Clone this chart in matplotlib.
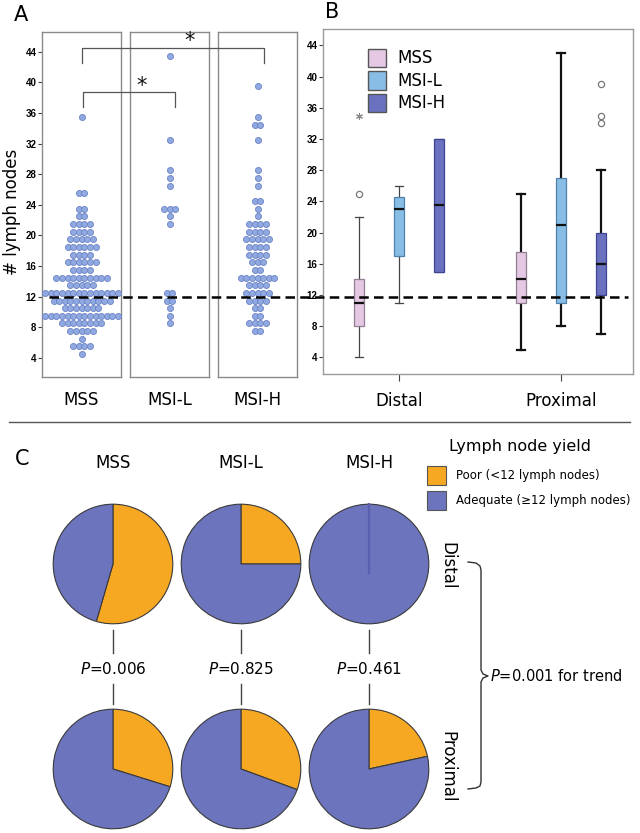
import matplotlib
matplotlib.use('Agg')
import matplotlib.pyplot as plt
import numpy as np
from matplotlib.patches import Rectangle
from matplotlib.lines import Line2D
import matplotlib.transforms as mtransforms

plt.rcParams['font.family'] = ['DejaVu Sans']

# ---------------- data ----------------
groups = ['MSS', 'MSI-L', 'MSI-H']
threshold = 12
yticks = list(range(4, 45, 4))

# Panel A: dot-plot rows (level, number of dots)
mss_levels = [35.5, 25.5, 23.5, 22.5, 21.5, 20.5, 19.5, 18.5, 17.5, 16.5, 15.5,
              14.5, 13.5, 12.5, 11.5, 10.5, 9.5, 8.5, 7.5, 6.5, 5.5, 4.5]
mss_counts = [1, 2, 2, 2, 4, 4, 5, 6, 4, 6, 4, 10, 5, 14, 11, 7, 14, 8, 5, 1, 4, 1]
msil_levels = [43.5, 32.5, 28.5, 27.5, 26.5, 23.5, 22.5, 21.5, 12.5, 11.5, 10.5, 9.5, 8.5]
msil_counts = [1, 1, 1, 1, 1, 3, 1, 1, 2, 2, 1, 1, 1]
msih_levels = [39.5, 35.5, 34.5, 32.5, 28.5, 27.5, 26.5, 24.5, 23.5, 22.5, 21.5, 20.5,
               19.5, 18.5, 17.5, 16.5, 15.5, 14.5, 13.5, 12.5, 11.5, 10.5, 9.5, 8.5, 7.5]
msih_counts = [1, 1, 2, 1, 1, 1, 1, 2, 1, 1, 4, 4, 5, 4, 4, 3, 2, 7, 4, 5, 4, 2, 2, 4, 2]

# Panel B: box plot statistics (order MSS, MSI-L, MSI-H)
locations = ['Distal', 'Proximal']
distal_lo = [4, 11, 15]
distal_q1 = [8, 17, 15]
distal_med = [11, 23, 23.5]
distal_q3 = [14, 24.5, 32]
distal_hi = [22, 26, 32]
distal_outliers = [[25], [], []]
distal_extremes = [[35], [], []]
prox_lo = [5, 8, 7]
prox_q1 = [11, 11, 12]
prox_med = [14, 21, 16]
prox_q3 = [17.5, 27, 20]
prox_hi = [25, 43, 28]
prox_outliers = [[], [], [34, 35, 39]]
prox_extremes = [[], [], []]

# Panel C: percentage of poor lymph node yield
poor_distal = [54.5, 25.0, 0.0]
poor_proximal = [29.8, 30.6, 21.6]
p_values = ['0.006', '0.825', '0.461']
p_trend = '0.001'

# ---------------- styling ----------------
W, H = 640, 833
fig = plt.figure(figsize=(6.4, 8.33), dpi=100)


def fx(x):
    return x / W


def fy(y):
    return 1 - y / H


def ax_px(x0, y0, x1, y1):
    return fig.add_axes([x0 / W, 1 - y1 / H, (x1 - x0) / W, (y1 - y0) / H])


dot_face = '#90A9E0'
dot_edge = '#6A83C6'
box_face = ['#E4C8E4', '#88BEE6', '#6A72C0']
box_edge = ['#8F7F90', '#4E82AD', '#3C4594']
orange = '#F7A823'
blue = '#6B74BD'
tick_font = dict(family='Liberation Sans', weight='bold', size=7)

# ---------------- Panel A ----------------
A_ylim = (1.5, 46.6)
a_boxes = [(42, 121), (130, 209), (218, 297)]
a_axes = []
spacing = 5.6 / 79.0
for i, (x0, x1) in enumerate(a_boxes):
    ax = ax_px(x0, 32, x1, 377)
    ax.set_xlim(-0.5, 0.5)
    ax.set_ylim(*A_ylim)
    for s in ax.spines.values():
        s.set_color('#8a8a8a')
        s.set_linewidth(1.0)
    ax.set_xticks([0])
    ax.set_xticklabels([groups[i]], fontsize=12)
    ax.tick_params(axis='x', length=0, pad=10)
    if i == 0:
        ax.set_yticks(yticks)
        ax.set_yticklabels([str(t) for t in yticks], fontdict=tick_font)
        ax.tick_params(axis='y', length=3, width=0.8, color='#444', pad=1)
    else:
        ax.set_yticks([])
    a_axes.append(ax)

for ax, levels, counts in zip(a_axes, [mss_levels, msil_levels, msih_levels],
                              [mss_counts, msil_counts, msih_counts]):
    xs, ys = [], []
    for lv, n in zip(levels, counts):
        offs = (np.arange(n) - (n - 1) / 2.0) * spacing
        xs.extend(offs)
        ys.extend([lv] * n)
    ax.scatter(xs, ys, s=19, facecolor=dot_face, edgecolor=dot_edge,
               linewidth=0.6, zorder=3, clip_on=False)

fig.text(fx(12), fy(212), '# lymph nodes', rotation=90, fontsize=12,
         ha='center', va='center')
fig.text(fx(21), fy(15), 'A', fontsize=15, ha='center', va='center')

# significance brackets (x in figure px, y in data of panel A)
trA = mtransforms.blended_transform_factory(fig.transFigure, a_axes[0].transData)
br_col = '#555555'
for (xl, xr, ytop, yleg, xs_, ys_) in [(82.5, 175, 38.8, 36.8, 142, 39.6),
                                       (82, 264, 44.5, 42.6, 190, 45.4)]:
    fig.add_artist(Line2D([fx(xl), fx(xl), fx(xr), fx(xr)], [yleg, ytop, ytop, yleg],
                          transform=trA, color=br_col, lw=0.9))
    fig.text(fx(xs_), ys_, '*', transform=trA, fontsize=15, ha='center',
             va='center', color='#111')

# threshold dashed line across panels A and B
thr = Line2D([fx(49), fx(628)], [threshold, threshold], transform=trA,
             color='black', lw=1.8)
thr.set_dashes([3.8, 2.1])
fig.add_artist(thr)

# ---------------- Panel B ----------------
axB = ax_px(323, 29, 633, 374)
axB.set_xlim(-0.469, 1.444)
axB.set_ylim(1.87, 46.1)
for s in axB.spines.values():
    s.set_color('#9a9a9a')
    s.set_linewidth(1.0)
axB.set_yticks(yticks)
axB.set_yticklabels([str(t) for t in yticks], fontdict=tick_font)
axB.tick_params(axis='y', length=3, width=0.8, color='#444', pad=1)
axB.set_xticks([0, 1])
axB.set_xticklabels(locations, fontsize=12)
axB.tick_params(axis='x', length=5, width=0.8, color='#444', pad=8)

offsets = [-0.247, 0.0, 0.247]
stats, positions, styles = [], [], []
sets = [(distal_lo, distal_q1, distal_med, distal_q3, distal_hi, distal_outliers, distal_extremes),
        (prox_lo, prox_q1, prox_med, prox_q3, prox_hi, prox_outliers, prox_extremes)]
for gi, (lo, q1, med, q3, hi, outl, extr) in enumerate(sets):
    for k in range(3):
        stats.append(dict(med=med[k], q1=q1[k], q3=q3[k], whislo=lo[k],
                          whishi=hi[k], fliers=[]))
        positions.append(gi + offsets[k])
        styles.append(gi)
        if outl[k]:
            axB.scatter([gi + offsets[k]] * len(outl[k]), outl[k], s=20,
                        facecolor='white', edgecolor='#777777', linewidth=0.9, zorder=4)
        if extr[k]:
            axB.scatter([gi + offsets[k]] * len(extr[k]), extr[k], s=18,
                        marker=(6, 2, 0), color='#888888', linewidth=0.8, zorder=4)

bp = axB.bxp(stats, positions=positions, widths=0.062, patch_artist=True,
             showfliers=False, capwidths=0.05, manage_ticks=False)
for i, b in enumerate(bp['boxes']):
    k = i % 3
    b.set_facecolor(box_face[k])
    b.set_edgecolor(box_edge[k])
    b.set_linewidth(0.9)
    b.set_zorder(3)
    lw = 0.9 if styles[i] == 0 else 1.6
    col = '#444444' if styles[i] == 0 else '#111111'
    for j in (2 * i, 2 * i + 1):
        bp['whiskers'][j].set_color(col)
        bp['whiskers'][j].set_linewidth(lw)
        bp['caps'][j].set_color(col)
        bp['caps'][j].set_linewidth(lw)
    bp['medians'][i].set_color('#111111')
    bp['medians'][i].set_linewidth(1.6)
    bp['medians'][i].set_zorder(4)

# legend of panel B
for k, (yy) in enumerate([49, 71.5, 94]):
    fig.add_artist(Rectangle((fx(368), fy(yy + 18)), 18 / W, 18 / H,
                             facecolor=box_face[k], edgecolor='#555555', lw=1.0,
                             transform=fig.transFigure))
    fig.text(fx(397), fy(yy + 9), groups[k], fontsize=12, ha='left', va='center')

fig.text(fx(332), fy(12), 'B', fontsize=15, ha='center', va='center')

# separator
fig.add_artist(Line2D([fx(9), fx(630)], [fy(422), fy(422)], color='#555555', lw=1.0))

# ---------------- Panel C ----------------
fig.text(fx(22), fy(459), 'C', fontsize=15, ha='center', va='center')
pie_cx = [113, 241, 369]
pie_cy = [564, 769]
R = 61
for row, poor in enumerate([poor_distal, poor_proximal]):
    for i, p in enumerate(poor):
        cx, cy = pie_cx[i], pie_cy[row]
        ax = ax_px(cx - R, cy - R, cx + R, cy + R)
        wedges, _ = ax.pie([p, 100 - p], colors=[orange, blue], startangle=90,
                           counterclock=False,
                           wedgeprops=dict(edgecolor='#3a3a3a', linewidth=0.8))
        if p == 0:
            # zero-size slice shows only as a faint radial line
            ax.plot([0, 0], [-0.15, 1.0], color='#5960B0', lw=1.6, zorder=5)
        ax.set_xlim(-1.02, 1.02)
        ax.set_ylim(-1.02, 1.02)
        ax.set_aspect('equal')
        ax.axis('off')

for i, g in enumerate(groups):
    fig.text(fx(pie_cx[i]), fy(463), g, fontsize=12, ha='center', va='center')
    fig.add_artist(Line2D([fx(pie_cx[i])] * 2, [fy(630), fy(653)], color='#444', lw=1.0))
    fig.add_artist(Line2D([fx(pie_cx[i])] * 2, [fy(684), fy(704)], color='#444', lw=1.0))
    fig.text(fx(pie_cx[i]), fy(669), r'$\mathit{P}$=' + p_values[i], fontsize=11,
             ha='center', va='center')

fig.text(fx(447), fy(566), 'Distal', rotation=270, fontsize=12, ha='center', va='center')
fig.text(fx(447), fy(767), 'Proximal', rotation=270, fontsize=12, ha='center', va='center')

# brace
bx = [468, 476, 480, 481, 481, 483, 488, 483, 481, 481, 480, 476, 468]
by = [562, 563, 566, 570, 670, 674, 676, 678, 682, 782, 786, 788, 789]
fig.add_artist(Line2D([fx(v) for v in bx], [fy(v) for v in by], color='#333', lw=1.0))
fig.text(fx(490), fy(676), r'$\mathit{P}$=' + p_trend + ' for trend', fontsize=10.5,
         ha='left', va='center')

# legend of panel C
fig.text(fx(520), fy(446), 'Lymph node yield', fontsize=11.5, ha='center', va='center')
for k, (yy, col, lab) in enumerate([(466, orange, 'Poor (<12 lymph nodes)'),
                                    (491, blue, 'Adequate (≥12 lymph nodes)')]):
    fig.add_artist(Rectangle((fx(427), fy(yy + 19)), 19 / W, 19 / H,
                             facecolor=col, edgecolor='#555555', lw=0.8,
                             transform=fig.transFigure))
    fig.text(fx(456), fy(yy + 9.5), lab, fontsize=8.5, ha='left', va='center')

fig.savefig('out.png', dpi=100)
